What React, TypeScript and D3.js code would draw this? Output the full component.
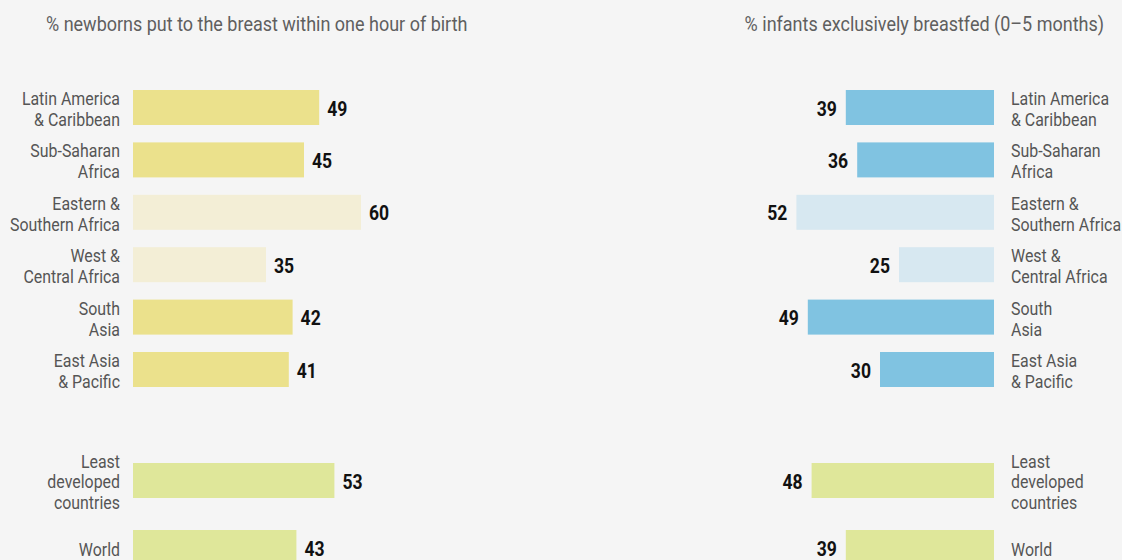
import React from "react";
import * as d3 from "d3";

// rows, top to bottom
const regions = [
  "Latin America\n& Caribbean",
  "Sub-Saharan\nAfrica",
  "Eastern &\nSouthern Africa",
  "West &\nCentral Africa",
  "South\nAsia",
  "East Asia\n& Pacific",
];
const summary = ["Least\ndeveloped\ncountries", "World"];

// sub-regions of Sub-Saharan Africa are drawn lighter
const subRegions = ["Eastern &\nSouthern Africa", "West &\nCentral Africa"];

const earlyInitiation = [49, 45, 60, 35, 42, 41];
const earlyInitiationSummary = [53, 43];
const exclusiveBf = [39, 36, 52, 25, 49, 30];
const exclusiveBfSummary = [48, 39];

const titleLeft = "%  newborns put to the breast within one hour of birth";
const titleRight = "% infants exclusively breastfed (0–5 months)";

const W = 1122;
const H = 560;
const BAR_H = 35;
const FONT = "Roboto, sans-serif";
const SX = 0.9; // squeeze Roboto into a condensed look

// condensed text: drawn at (x, y), horizontally squeezed
const CText: React.FC<{
  x: number;
  y: number;
  size: number;
  anchor?: "start" | "end";
  bold?: boolean;
  fill: string;
  lines: string[];
  lh?: number;
}> = ({ x, y, size, anchor = "start", bold, fill, lines, lh = 21 }) => (
  <g transform={`translate(${x},${y}) scale(${SX},1)`}>
    <text
      textAnchor={anchor}
      fontSize={size}
      fontWeight={bold ? "bold" : "normal"}
      fill={fill}
      fontFamily={FONT}
    >
      {lines.map((t, i) => (
        <tspan key={i} x={0} y={i * lh}>
          {t}
        </tspan>
      ))}
    </text>
  </g>
);

const App: React.FC = () => {
  const yRegion = d3.scalePoint<string>().domain(regions).range([90, 352]);
  const ySummary = d3.scalePoint<string>().domain(summary).range([463, 530]);
  const y = (c: string) => (regions.includes(c) ? yRegion(c)! : ySummary(c)!);

  const xL = d3.scaleLinear().domain([0, 60]).range([133, 361]);
  const xR = d3.scaleLinear().domain([0, 60]).range([994, 766]);

  const leftRows = [
    ...regions.map((c, i) => ({ c, v: earlyInitiation[i] })),
    ...summary.map((c, i) => ({ c, v: earlyInitiationSummary[i] })),
  ];
  const rightRows = [
    ...regions.map((c, i) => ({ c, v: exclusiveBf[i] })),
    ...summary.map((c, i) => ({ c, v: exclusiveBfSummary[i] })),
  ];

  const colL = (c: string) =>
    summary.includes(c) ? "#dfe79a" : subRegions.includes(c) ? "#f3eed6" : "#ebe18c";
  const colR = (c: string) =>
    summary.includes(c) ? "#dfe79a" : subRegions.includes(c) ? "#d7e8f1" : "#80c3e1";

  const label = (c: string, x: number, anchor: "start" | "end") => {
    const lines = c.split("\n");
    const mid = y(c) + BAR_H / 2;
    const first = mid + 8 - ((lines.length - 1) * 21) / 2;
    return <CText x={x} y={first} size={17.7} fill="#555" anchor={anchor} lines={lines} />;
  };

  return (
    <svg
      width={W}
      height={H}
      style={{ position: "absolute", left: 0, top: 0, background: "#f5f5f5" }}
    >
      <rect width={W} height={H} fill="#f5f5f5" />
      <CText x={46} y={31} size={20} fill="#5f5f5f" lines={[titleLeft]} />
      <CText x={1104} y={31} size={20} fill="#5f5f5f" anchor="end" lines={[titleRight]} />

      {/* left: early initiation */}
      {leftRows.map((d) => (
        <g key={"L" + d.c}>
          <rect x={xL(0)} y={y(d.c)} width={xL(d.v) - xL(0)} height={BAR_H} fill={colL(d.c)} />
          <CText
            x={xL(d.v) + 8}
            y={y(d.c) + BAR_H / 2 + 8}
            size={19.5}
            bold
            fill="#111"
            lines={[String(d.v)]}
          />
          {label(d.c, 120, "end")}
        </g>
      ))}

      {/* right: exclusive breastfeeding */}
      {rightRows.map((d) => (
        <g key={"R" + d.c}>
          <rect x={xR(d.v)} y={y(d.c)} width={xR(0) - xR(d.v)} height={BAR_H} fill={colR(d.c)} />
          <CText
            x={xR(d.v) - 9}
            y={y(d.c) + BAR_H / 2 + 8}
            size={19.5}
            bold
            fill="#111"
            anchor="end"
            lines={[String(d.v)]}
          />
          {label(d.c, 1011, "start")}
        </g>
      ))}
    </svg>
  );
};

export default App;
